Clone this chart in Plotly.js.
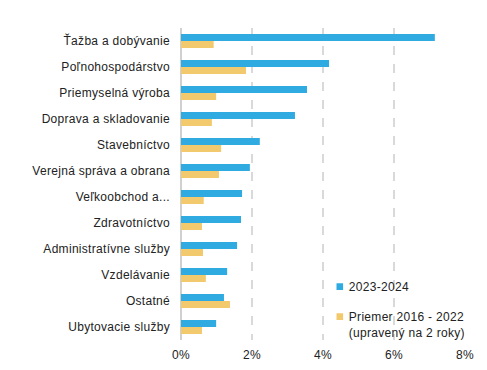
<!DOCTYPE html>
<html>
<head>
<meta charset="utf-8">
<script src="https://cdn.plot.ly/plotly-3.0.1.min.js"></script>
<style>
html,body{margin:0;padding:0;background:#fff;}
#chart{width:487px;height:370px;}
#chart text{letter-spacing:0.3px;}
#chart .legendpoints path{transform:translate(31px,0px) scale(0.55);}
</style>
</head>
<body>
<div id="chart"></div>
<script>
const categories = ["Ťažba a dobývanie", "Poľnohospodárstvo", "Priemyselná výroba", "Doprava a skladovanie", "Stavebníctvo", "Verejná správa a obrana", "Veľkoobchod a...", "Zdravotníctvo", "Administratívne služby", "Vzdelávanie", "Ostatné", "Ubytovacie služby"];
const values2324 = [7.15, 4.17, 3.55, 3.21, 2.22, 1.94, 1.72, 1.69, 1.58, 1.30, 1.21, 0.99];
const valuesAvg = [0.92, 1.83, 0.99, 0.87, 1.13, 1.07, 0.64, 0.59, 0.62, 0.70, 1.38, 0.59];
const seriesNames = ["2023-2024", "Priemer 2016 - 2022<br>(upravený na 2 roky)"];
const xTicks = [0, 2, 4, 6, 8];
const xTickLabels = ["0%", "2%", "4%", "6%", "8%"];

const font = {family: "Liberation Sans, Arial, sans-serif", size: 12, color: "#222222"};

const traces = [
  {type: "bar", orientation: "h", y: categories, x: values2324, name: seriesNames[0],
   marker: {color: "#2fabe1"}, legendgroup: "a", hoverinfo: "x+y"},
  {type: "bar", orientation: "h", y: categories, x: valuesAvg, name: seriesNames[1],
   marker: {color: "#f3c96e"}, legendgroup: "b", hoverinfo: "x+y"}
];

const layout = {
  width: 487, height: 370,
  margin: {l: 181, r: 22, t: 28, b: 30},
  paper_bgcolor: "#ffffff", plot_bgcolor: "#ffffff",
  font: font,
  barmode: "group", bargap: 0.46, bargroupgap: 0,
  showlegend: true,
  legend: {x: 0.45, y: 0.217, xanchor: "left", yanchor: "top", traceorder: "grouped",
           tracegroupgap: 11, valign: "top", font: font, bgcolor: "rgba(0,0,0,0)"},
  xaxis: {range: [0, 8], tickvals: xTicks, ticktext: xTickLabels, showgrid: true,
          gridcolor: "#d9d9d9", griddash: "dash", gridwidth: 1.5,
          zeroline: true, zerolinecolor: "#d0d0d0", zerolinewidth: 2.5,
          showline: false, ticks: "", ticklabelstandoff: 6, fixedrange: true},
  yaxis: {autorange: "reversed", type: "category", showgrid: false, zeroline: false,
          showline: false, ticks: "", ticklabelstandoff: 10, fixedrange: true}
};

Plotly.newPlot("chart", traces, layout, {displayModeBar: false, staticPlot: true});
</script>
</body>
</html>
